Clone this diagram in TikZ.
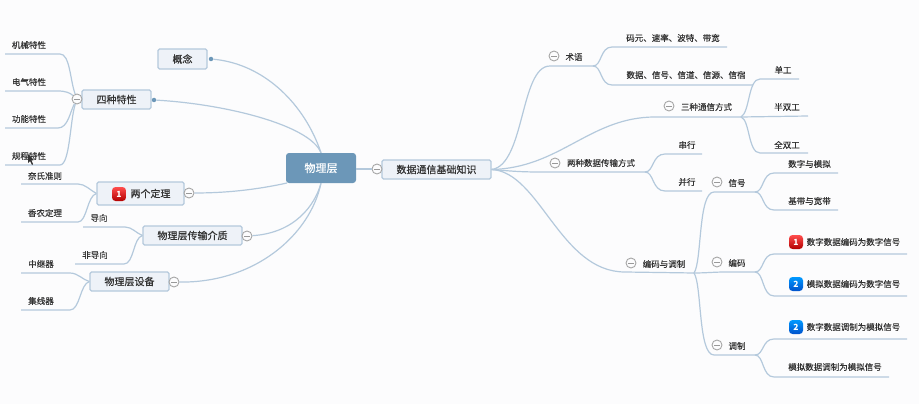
\documentclass[tikz,border=0pt]{standalone}
\usepackage{fontspec}
\setmainfont{Noto Sans CJK SC}
\newfontfamily\leaffont[FakeBold=0.25]{Noto Sans CJK SC}
\newfontfamily\topicfont[FakeBold=0.6]{Noto Sans CJK SC}
\usepackage{xcolor}
\usetikzlibrary{calc}
\definecolor{paper}{HTML}{FCFCFD}
\definecolor{linkblue}{HTML}{B4C9DC}
\definecolor{rootblue}{HTML}{6C97B8}
\definecolor{boxfill}{HTML}{EEF2F8}
\definecolor{inkgray}{HTML}{333333}
\tikzset{
link/.style={draw=linkblue,line width=1.2pt},
leaf/.style={inner sep=0pt,text=inkgray,font=\fontsize{8.5}{10}\leaffont},
topic/.style={draw=linkblue,line width=1.2pt,fill=boxfill,rounded corners=1.5pt,inner sep=0pt,text=inkgray,font=\fontsize{10}{12}\topicfont},
minus/.style={circle,draw=gray!70,fill=paper,line width=0.9pt,minimum size=10pt,inner sep=0pt,path picture={\draw[gray!80,line width=0.9pt]($(path picture bounding box.center)+(-3pt,0)$)--($(path picture bounding box.center)+(3pt,0)$);}},
dot/.style={circle,fill=rootblue,inner sep=0pt,minimum size=4.5pt},
badge/.style={rounded corners=3.5pt,minimum size=14pt,inner sep=0pt,text=white,font=\fontsize{8.5}{10}\bfseries\itshape\selectfont},
badgered/.style={badge,top color=red!70!white,bottom color=red!70!black},
badgeblue/.style={badge,top color=cyan!60!blue,bottom color=blue!60!cyan!80!black}
}
\begin{document}
\begin{tikzpicture}[x=1pt,y=-1pt]
\useasboundingbox[fill=paper](0,0)rectangle(919,404);
%root and its first row
\node[rounded corners=3pt,fill=rootblue,text=white,minimum width=70pt,minimum height=30pt,inner sep=0pt,font=\fontsize{11}{13}\topicfont](root)at(321,168){物理层};
\node[topic,minimum width=109pt,minimum height=19pt](comm)at(436.5,169.5){数据通信基础知识};
\node[minus](commM)at(377,169){};
\draw[link](root.east|-commM)--(commM);
%left side
\node[topic,minimum width=49pt,minimum height=20pt](idea)at(182.5,59){概念};
\node[dot](ideaD)at(211,59){};
\node[topic,minimum width=69pt,minimum height=19pt](four)at(116.5,99.5){四种特性};
\node[dot](fourD)at(154,100){};
\node[minus](fourM)at(77,99){};
\node[topic,minimum width=87pt,minimum height=23pt,text width=87pt,align=center](two)at(140.5,193.5){\hspace*{20pt}两个定理};
\node[badgered](twoB)at(119,194){1};
\node[minus](twoM)at(189,193){};
\node[topic,minimum width=99pt,minimum height=19pt](medium)at(192.5,235.5){物理层传输介质};
\node[minus](mediumM)at(247,236){};
\node[topic,minimum width=79pt,minimum height=19pt](device)at(129.5,281.5){物理层设备};
\node[minus](deviceM)at(174,282){};
\draw[link](ideaD)..controls(265,64)and(305,105)..(root.north);
\draw[link](fourD)..controls(225,104)and(310,125)..(root.north);
\draw[link](twoM)..controls(225,193)and(255,190)..(287,183);
\draw[link](mediumM)..controls(295,233)and(315,205)..(root.south);
\draw[link](deviceM)..controls(255,283)and(310,235)..(root.south);
%left leaves
\node[leaf](jixie)at(29,45){机械特性};
\node[leaf](dianqi)at(29,82){电气特性};
\node[leaf](gongneng)at(29,119){功能特性};
\node[leaf](guicheng)at(29,156){规程特性};
\node[leaf](naishi)at(45,176){奈氏准则};
\node[leaf](xiangnong)at(45,213){香农定理};
\node[leaf](daoxiang)at(99,218){导向};
\node[leaf](feidao)at(95,255){非导向};
\node[leaf](zhongji)at(41,264){中继器};
\node[leaf](jixian)at(41,301){集线器};
\coordinate(jixieE)at(5,54);
\coordinate(dianqiE)at(5,91);
\coordinate(gongnengE)at(5,128);
\coordinate(guichengE)at(5,165);
\coordinate(naishiE)at(21,184);
\coordinate(xiangnongE)at(21,222);
\coordinate(daoxiangE)at(83,227);
\coordinate(feidaoE)at(75,264);
\coordinate(zhongjiE)at(21,273);
\coordinate(jixianE)at(21,310);
\draw[link](jixieE)--(60,54)..controls(70,54)and(70,80)..(fourM);
\draw[link](dianqiE)--(58,91)..controls(66,91)and(70,93)..(fourM);
\draw[link](gongnengE)--(58,128)..controls(68,128)and(70,112)..(fourM);
\draw[link](guichengE)--(60,165)..controls(70,165)and(70,120)..(fourM);
\draw[link](naishiE)--(78,184)..controls(85,184)and(90,190)..(two.west);
\draw[link](xiangnongE)--(78,222)..controls(87,222)and(87,196)..(two.west);
\draw[link](daoxiangE)--(125,227)..controls(132,227)and(136,233)..(medium.west);
\draw[link](feidaoE)--(124,264)..controls(134,264)and(133,238)..(medium.west);
\draw[link](zhongjiE)--(70,273)..controls(78,273)and(83,280)..(device.west);
\draw[link](jixianE)--(70,310)..controls(80,310)and(80,284)..(device.west);
%right side, first level
\node[minus](termM)at(554,56){};
\node[leaf](term)at(574,57){术语};
\node[minus](threeM)at(669,106){};
\node[leaf](three)at(706.5,107){三种通信方式};
\node[minus](twowayM)at(555,163){};
\node[leaf](twoway)at(601,163){两种数据传输方式};
\node[minus](codeM)at(631,263){};
\node[leaf](code)at(664,264){编码与调制};
\coordinate(termH)at(593,66);
\coordinate(threeH)at(741,117);
\coordinate(twowayH)at(645,172);
\coordinate(codeH)at(694,273);
\draw[link](comm.east)..controls(525,165)and(520,66)..(550,66)--(termH);
\draw[link](comm.east)..controls(560,168)and(590,117)..(655,117)--(threeH);
\draw[link](comm.east)..controls(510,171)and(520,172)..(540,172)--(twowayH);
\draw[link](comm.east)..controls(540,172)and(560,272)..(625,272)--(codeH);
%right side, second level
\node[leaf](mayuan)at(673,38){码元、速率、波特、带宽};
\node[leaf](shuju)at(686,75){数据、信号、信道、信源、信宿};
\node[leaf](dangong)at(783,70){单工};
\node[leaf](banshuang)at(787,107){半双工};
\node[leaf](quanshuang)at(787,145){全双工};
\node[leaf](chuanxing)at(687,145){串行};
\node[leaf](bingxing)at(687,182){并行};
\coordinate(mayuanE)at(727,47);
\coordinate(shujuE)at(753,85);
\coordinate(dangongE)at(799,79);
\coordinate(banshuangE)at(808,116);
\coordinate(quanshuangE)at(808,153);
\coordinate(chuanxingE)at(702,154);
\coordinate(bingxingE)at(702,191);
\draw[link](termH)..controls(602,66)and(600,47)..(612,47)--(mayuanE);
\draw[link](termH)..controls(602,66)and(600,85)..(612,85)--(shujuE);
\draw[link](threeH)..controls(750,112)and(748,79)..(760,79)--(dangongE);
\draw[link](threeH)--(banshuangE);
\draw[link](threeH)..controls(750,120)and(748,153)..(760,153)--(quanshuangE);
\draw[link](twowayH)..controls(654,172)and(652,154)..(665,154)--(chuanxingE);
\draw[link](twowayH)..controls(654,172)and(652,191)..(665,191)--(bingxingE);
%coding branch
\node[minus](signalM)at(717,182){};
\node[leaf](signal)at(737,183){信号};
\node[minus](encodeM)at(717,262){};
\node[leaf](encode)at(737,263){编码};
\node[minus](modM)at(717,345){};
\node[leaf](mod)at(737,346){调制};
\coordinate(signalH)at(755,192);
\coordinate(encodeH)at(755,272);
\coordinate(modH)at(755,355);
\draw[link](codeH)..controls(702,262)and(698,192)..(714,192)--(signalH);
\draw[link](codeH)..controls(705,273)and(715,272)..(725,272)--(encodeH);
\draw[link](codeH)..controls(702,285)and(698,355)..(714,355)--(modH);
\node[leaf](shuzi)at(809.5,164){数字与模拟};
\node[leaf](jidai)at(809.5,201){基带与宽带};
\node[badgered](sigOneB)at(796,242){1};
\node[leaf](sigOne)at(853.5,242){数字数据编码为数字信号};
\node[badgeblue](sigTwoB)at(796,284){2};
\node[leaf](sigTwo)at(853.5,284){模拟数据编码为数字信号};
\node[badgeblue](modOneB)at(796,327){2};
\node[leaf](modOne)at(853.5,327){数字数据调制为模拟信号};
\node[leaf](modTwo)at(835,367){模拟数据调制为模拟信号};
\coordinate(shuziE)at(838,173);
\coordinate(jidaiE)at(838,210);
\coordinate(sigOneE)at(907,254);
\coordinate(sigTwoE)at(907,296);
\coordinate(modOneE)at(907,339);
\coordinate(modTwoE)at(889,377);
\draw[link](signalH)..controls(764,192)and(762,173)..(774,173)--(shuziE);
\draw[link](signalH)..controls(764,192)and(762,210)..(774,210)--(jidaiE);
\draw[link](encodeH)..controls(764,272)and(762,254)..(774,254)--(sigOneE);
\draw[link](encodeH)..controls(764,272)and(762,296)..(774,296)--(sigTwoE);
\draw[link](modH)..controls(764,355)and(762,339)..(774,339)--(modOneE);
\draw[link](modH)..controls(764,355)and(762,377)..(774,377)--(modTwoE);
%mouse pointer
\fill[black!80](28,154)--(28,163)--(30,161)--(32,165)--(33,164)--(31.5,160.5)--(34,160)--cycle;
\end{tikzpicture}
\end{document}
